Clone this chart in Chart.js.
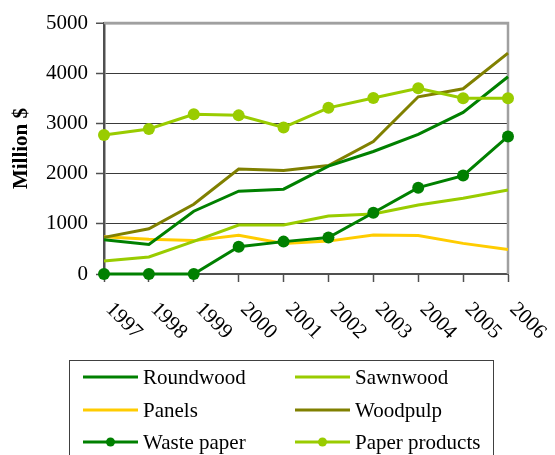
<!DOCTYPE html>
<html>
<head>
<meta charset="utf-8">
<script src="https://cdn.jsdelivr.net/npm/chart.js@4.4.1/dist/chart.umd.min.js"></script>
<style>
  body { margin: 0; background: #fff; }
  #wrap { width: 555px; height: 455px; }
</style>
</head>
<body>
<div id="wrap"><canvas id="forestChart" width="555" height="455"></canvas></div>
<script>
const years = ['1997', '1998', '1999', '2000', '2001', '2002', '2003', '2004', '2005', '2006'];

const roundwood     = [680, 590, 1250, 1650, 1690, 2150, 2440, 2780, 3220, 3930];
const sawnwood      = [260, 340, 650, 975, 975, 1155, 1195, 1375, 1510, 1675];
const panels        = [740, 690, 665, 770, 610, 655, 775, 765, 610, 490];
const woodpulp      = [730, 900, 1390, 2090, 2060, 2160, 2640, 3530, 3690, 4400];
const wastePaper    = [0, 0, 0, 545, 645, 725, 1220, 1720, 1960, 2740];
const paperProducts = [2770, 2890, 3180, 3160, 2920, 3310, 3505, 3700, 3500, 3500];

const yTicks = [0, 500, 1000, 1500, 2000, 2500, 3000, 3500, 4000, 4500, 5000];

const fontFamily = "'Liberation Serif', 'DejaVu Serif', serif";
const textColor = '#000000';
const gridColor = '#3a3a3a';
const borderGray = '#a0a0a0';
const axisColor = '#505050';

const greenColor = '#008000';
const limeColor = '#99cc00';
const yellowColor = '#ffcc00';
const oliveColor = '#808000';

// bordes derecho y superior del área de trazado
const plotBorder = {
    id: 'plotBorder',
    beforeDatasetsDraw(chart) {
        const { ctx, chartArea } = chart;
        ctx.save();
        ctx.strokeStyle = borderGray;
        ctx.lineWidth = 2.5;
        ctx.beginPath();
        ctx.moveTo(chartArea.left, chartArea.top);
        ctx.lineTo(chartArea.right, chartArea.top);
        ctx.lineTo(chartArea.right, chartArea.bottom);
        ctx.stroke();
        ctx.restore();
    }
};

// etiquetas del eje x giradas hacia abajo
const slantedLabels = {
    id: 'slantedLabels',
    afterDraw(chart) {
        const { ctx } = chart;
        const xScale = chart.scales.x;
        ctx.save();
        ctx.fillStyle = textColor;
        ctx.font = '21px ' + fontFamily;
        ctx.textAlign = 'left';
        ctx.textBaseline = 'middle';
        chart.data.labels.forEach((label, i) => {
            const x = xScale.getPixelForTick(i);
            ctx.save();
            ctx.translate(x + 5, xScale.bottom + 24);
            ctx.rotate(Math.PI / 4);
            ctx.fillText(label, 0, 0);
            ctx.restore();
        });
        ctx.restore();
    }
};

// leyenda en dos columnas con recuadro
const boxLegend = {
    id: 'boxLegend',
    afterDraw(chart) {
        const { ctx } = chart;
        const colX = [83, 295];
        const rowY = [377, 410, 442];
        ctx.save();
        ctx.strokeStyle = '#404040';
        ctx.lineWidth = 1;
        ctx.strokeRect(69.5, 360.5, 424, 110);
        ctx.font = '21px ' + fontFamily;
        ctx.fillStyle = textColor;
        ctx.textAlign = 'left';
        ctx.textBaseline = 'middle';
        chart.data.datasets.forEach((ds, i) => {
            const x = colX[i % 2];
            const y = rowY[Math.floor(i / 2)];
            ctx.strokeStyle = ds.borderColor;
            ctx.lineWidth = 3;
            ctx.beginPath();
            ctx.moveTo(x, y);
            ctx.lineTo(x + 55, y);
            ctx.stroke();
            if (ds.pointRadius > 0) {
                ctx.fillStyle = ds.borderColor;
                ctx.beginPath();
                ctx.arc(x + 27.5, y, 4.5, 0, Math.PI * 2);
                ctx.fill();
            }
            ctx.fillStyle = textColor;
            ctx.fillText(ds.label, x + 60, y + 1);
        });
        ctx.restore();
    }
};

function makeSeries(label, data, color, withMarkers, order) {
    return {
        label: label,
        data: data,
        borderColor: color,
        backgroundColor: color,
        borderWidth: 3,
        tension: 0,
        fill: false,
        clip: false,
        pointRadius: withMarkers ? 6 : 0,
        pointHoverRadius: withMarkers ? 6 : 0,
        pointBackgroundColor: color,
        pointBorderWidth: 0,
        order: order
    };
}

new Chart(document.getElementById('forestChart'), {
    type: 'line',
    data: {
        labels: years,
        datasets: [
            makeSeries('Roundwood', roundwood, greenColor, false, 3),
            makeSeries('Sawnwood', sawnwood, limeColor, false, 5),
            makeSeries('Panels', panels, yellowColor, false, 6),
            makeSeries('Woodpulp', woodpulp, oliveColor, false, 4),
            makeSeries('Waste paper', wastePaper, greenColor, true, 1),
            makeSeries('Paper products', paperProducts, limeColor, true, 2)
        ]
    },
    options: {
        responsive: false,
        animation: false,
        layout: {
            padding: { top: 23, right: 47, bottom: 173, left: 0 }
        },
        plugins: {
            legend: { display: false },
            tooltip: { enabled: false }
        },
        scales: {
            x: {
                offset: false,
                afterFit: (scale) => { scale.height = 8; },
                grid: {
                    drawOnChartArea: false,
                    drawTicks: true,
                    tickLength: 8,
                    tickColor: axisColor,
                    tickWidth: 1.5
                },
                border: { display: true, color: axisColor, width: 2 },
                ticks: { display: false }
            },
            y: {
                min: 0,
                max: 5000,
                afterFit: (scale) => { scale.width = 104; },
                afterBuildTicks: (scale) => {
                    scale.ticks = yTicks.map(v => ({ value: v }));
                },
                title: {
                    display: true,
                    text: 'Million $',
                    color: textColor,
                    font: { family: fontFamily, size: 21, weight: 'bold' },
                    padding: { top: 9, bottom: 0 }
                },
                grid: {
                    color: (c) => c.tick && c.tick.value === 5000 ? borderGray : gridColor,
                    lineWidth: (c) => c.tick && c.tick.value === 5000 ? 2.5 : 1,
                    drawTicks: true,
                    tickLength: 8,
                    tickColor: axisColor,
                    tickWidth: 1.5
                },
                border: { display: true, color: axisColor, width: 2.5 },
                ticks: {
                    color: textColor,
                    padding: 8,
                    font: { family: fontFamily, size: 21 },
                    callback: (value) => String(value)
                }
            }
        }
    },
    plugins: [plotBorder, slantedLabels, boxLegend]
});
</script>
</body>
</html>
